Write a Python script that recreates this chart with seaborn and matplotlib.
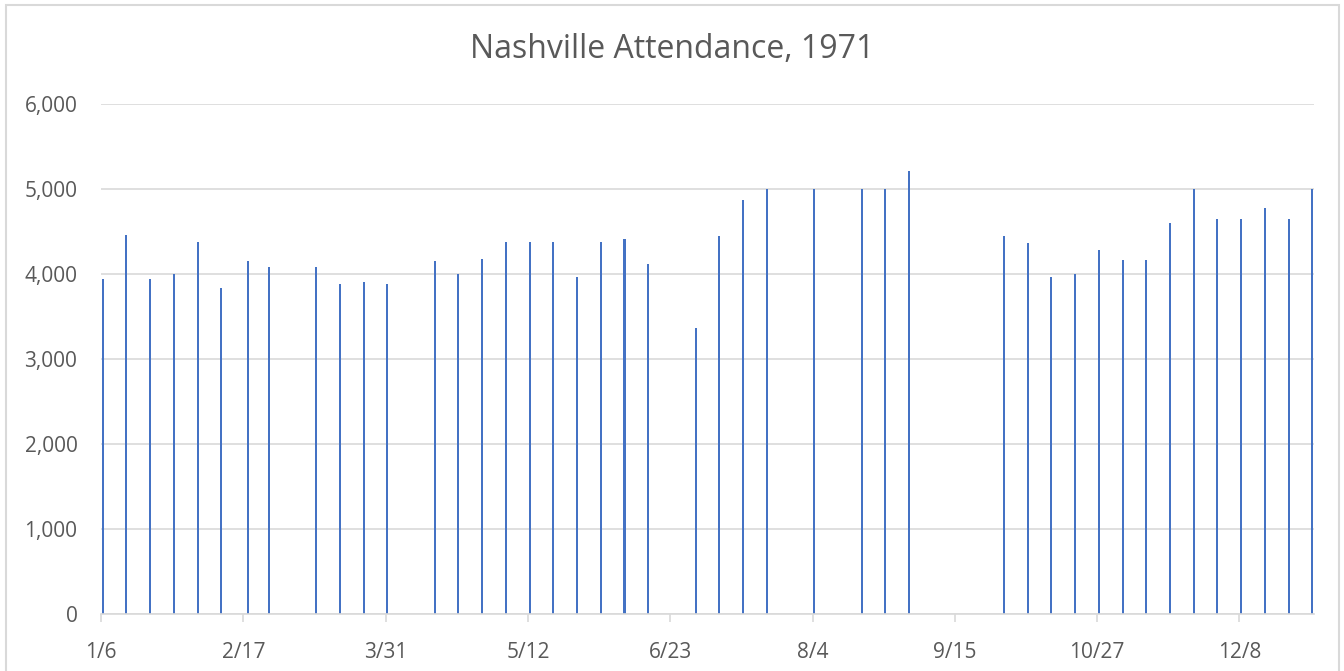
import pandas as pd
import matplotlib.pyplot as plt
import seaborn as sns
from matplotlib.ticker import FuncFormatter
from matplotlib.patches import Rectangle

annee = 1971

dates = ["1/6", "1/13", "1/20", "1/27", "2/3", "2/10", "2/18", "2/24",
         "3/10", "3/17", "3/24", "3/31", "4/14", "4/21", "4/28", "5/5",
         "5/12", "5/19", "5/26", "6/2", "6/9", "6/16", "6/30", "7/7",
         "7/14", "7/21", "8/4", "8/18", "8/25", "9/1", "9/29", "10/6",
         "10/13", "10/20", "10/27", "11/3", "11/10", "11/17", "11/24", "12/1",
         "12/8", "12/15", "12/22", "12/29"]

spectateurs = [3940, 4460, 3940, 4000, 4370, 3830, 4150, 4080,
               4080, 3880, 3900, 3880, 4150, 4000, 4180, 4380,
               4380, 4370, 3960, 4380, 4410, 4120, 3370, 4440,
               4870, 5000, 5000, 5000, 5000, 5210, 4440, 4360,
               3960, 4000, 4280, 4160, 4160, 4600, 5000, 4650,
               4650, 4770, 4650, 5000]

graduations = ["1/6", "2/17", "3/31", "5/12", "6/23", "8/4", "9/15", "10/27", "12/8"]


def jour(d):
    return pd.to_datetime(f"{d}/{annee}", format="%m/%d/%Y").dayofyear


df = pd.DataFrame({"jour": [jour(d) + 0.5 for d in dates], "spectateurs": spectateurs})

gris_texte = "#595959"
gris_ligne = "#D9D9D9"

sns.set_theme(style="white")
plt.rcParams['font.family'] = ['Open Sans', 'DejaVu Sans']

fig = plt.figure(figsize=(13.44, 6.71), dpi=100)
ax = fig.add_axes([101 / 1344, 1 - 614.3 / 671, (1314 - 101) / 1344, (614.3 - 103.7) / 671])

sns.barplot(data=df, x="jour", y="spectateurs", native_scale=True, width=0.1,
            color="#4472C4", saturation=1, errorbar=None, linewidth=0, ax=ax)

ax.set_xlim(jour(dates[0]), jour(dates[-1]) + 1)
ax.set_ylim(0, 6000)
ax.set_yticks(range(0, 6001, 1000))
ax.yaxis.set_major_formatter(FuncFormatter(lambda v, p: f"{v:,.0f}"))
ax.set_xticks([jour(g) for g in graduations])
ax.set_xticklabels(graduations)
ax.set_xlabel("")
ax.set_ylabel("")

ax.grid(axis="y", color=gris_ligne, linewidth=1.2)
ax.set_axisbelow(True)
for cote in ["top", "right", "left"]:
    ax.spines[cote].set_visible(False)
ax.spines["bottom"].set_color(gris_ligne)
ax.spines["bottom"].set_linewidth(1.2)

ax.tick_params(axis="x", length=6, width=1.2, color=gris_ligne, labelsize=15,
               labelcolor=gris_texte, pad=14, bottom=True)
ax.tick_params(axis="y", length=0, labelsize=15, labelcolor=gris_texte, pad=17)

fig.text(0.5, 1 - 49 / 671, "Nashville Attendance, 1971", ha="center", va="center",
         fontsize=23, color=gris_texte)

fig.patches.append(Rectangle((6 / 1344, -0.1), (1339 - 6) / 1344, 1 - 5 / 671 + 0.1,
                             transform=fig.transFigure, fill=False,
                             edgecolor=gris_ligne, linewidth=1.5))

fig.savefig("out.png", dpi=100)
